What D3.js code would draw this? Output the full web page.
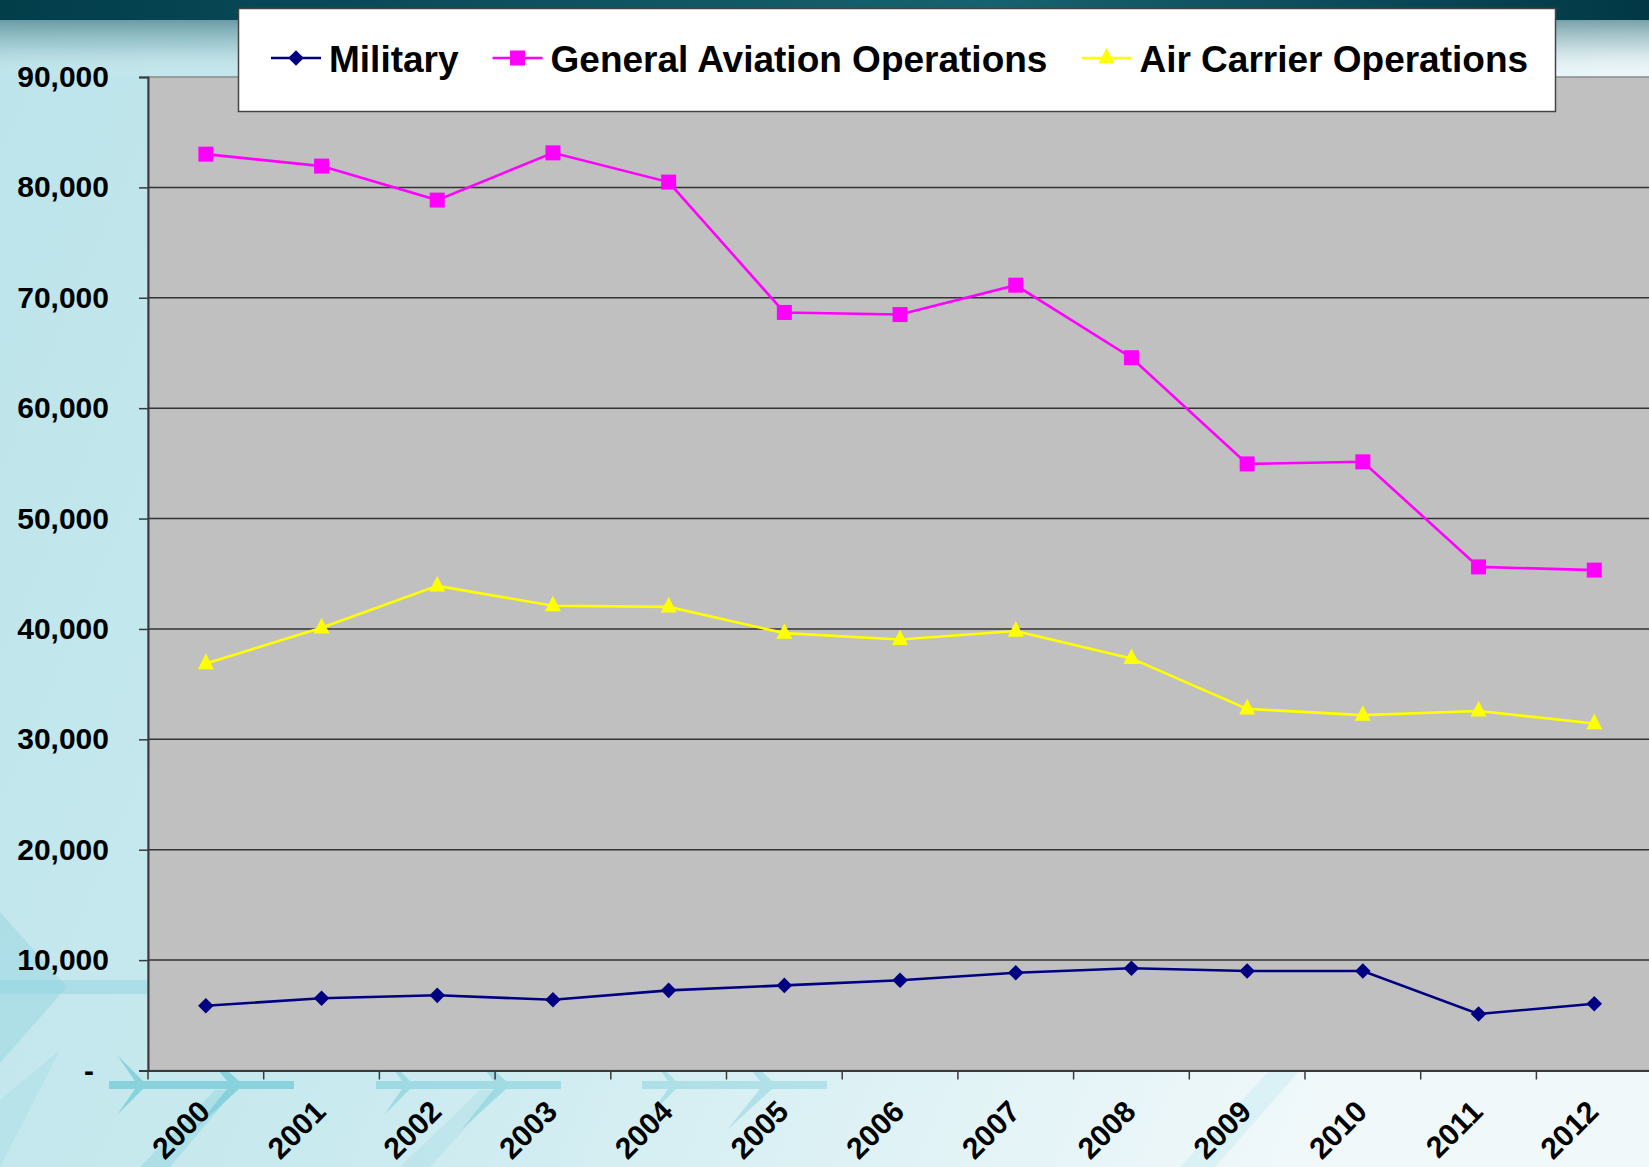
<!DOCTYPE html>
<html>
<head>
<meta charset="utf-8">
<script src="https://cdn.jsdelivr.net/npm/d3@7"></script>
<style>
  html, body { margin: 0; padding: 0; overflow: hidden; }
  body { width: 1649px; height: 1167px; }
  text { font-family: "Liberation Sans", Arial, sans-serif; font-weight: bold; }
</style>
</head>
<body>
<div id="graph"></div>
<script>
// chart data
const years = ["2000", "2001", "2002", "2003", "2004", "2005", "2006",
  "2007", "2008", "2009", "2010", "2011", "2012"];
const military = [5870, 6540, 6810, 6410, 7260, 7710, 8180, 8860, 9260, 9010, 9010, 5120, 6050];
const generalAviation = [83010, 81930, 78850, 83130, 80480, 68670, 68480, 71140, 64570, 54950, 55140, 45620, 45330];
const airCarrier = [36860, 40100, 43900, 42100, 42000, 39620, 39050, 39810, 37330, 32760, 32190, 32570, 31430];
const yTicks = [0, 10000, 20000, 30000, 40000, 50000, 60000, 70000, 80000, 90000];
const seriesNames = ["Military", "General Aviation Operations", "Air Carrier Operations"];

const W = 1649, H = 1167;
const margin = { top: 77, left: 148, bottom: 1070.5 };
const bandW = 115.7;

const svg = d3.select("#graph").append("svg")
  .attr("width", W).attr("height", H)
  .style("display", "block");

const defs = svg.append("defs");

// background gradients
const bg = defs.append("linearGradient").attr("id", "bg")
  .attr("x1", "0").attr("y1", "0").attr("x2", "1").attr("y2", "0.3");
bg.append("stop").attr("offset", "0").attr("stop-color", "#bce4ea");
bg.append("stop").attr("offset", "0.45").attr("stop-color", "#c9eaef");
bg.append("stop").attr("offset", "1").attr("stop-color", "#f0f8fa");

const topShade = defs.append("linearGradient").attr("id", "topShade")
  .attr("x1", "0").attr("y1", "0").attr("x2", "0").attr("y2", "1");
topShade.append("stop").attr("offset", "0").attr("stop-color", "#3f7480").attr("stop-opacity", 0.7);
topShade.append("stop").attr("offset", "0.45").attr("stop-color", "#6b9aa3").attr("stop-opacity", 0.35);
topShade.append("stop").attr("offset", "1").attr("stop-color", "#ffffff").attr("stop-opacity", 0);

const bar = defs.append("linearGradient").attr("id", "bar")
  .attr("x1", "0").attr("y1", "0").attr("x2", "1").attr("y2", "0");
bar.append("stop").attr("offset", "0").attr("stop-color", "#023d4a");
bar.append("stop").attr("offset", "0.6").attr("stop-color", "#176270");
bar.append("stop").attr("offset", "1").attr("stop-color", "#023845");

svg.append("rect").attr("width", W).attr("height", H).attr("fill", "url(#bg)");
svg.append("rect").attr("y", 18).attr("width", W).attr("height", 60).attr("fill", "url(#topShade)");
svg.append("rect").attr("width", W).attr("height", 20).attr("fill", "url(#bar)");

// faint airplane silhouettes in the background
function plane(g, x, y, s, op) {
  const p = g.append("g").attr("transform", `translate(${x},${y}) scale(${s})`)
    .attr("fill", "#74cbd9").attr("opacity", op);
  p.append("rect").attr("x", 0).attr("y", -4).attr("width", 185).attr("height", 8);
  p.append("path").attr("d", "M8,-30 L26,-4 L34,-4 Z M8,30 L26,4 L34,4 Z");
  p.append("path").attr("d", "M85,-45 L118,-4 L130,-4 Z M85,45 L118,4 L130,4 Z");
}
const deco = svg.append("g");
plane(deco, 109, 1085, 1, 0.75);
plane(deco, 376, 1085, 1, 0.5);
plane(deco, 642, 1085, 1, 0.4);
deco.append("rect").attr("x", 0).attr("y", 980).attr("width", 148).attr("height", 14)
  .attr("fill", "#8fd3df").attr("opacity", 0.45);
deco.append("path").attr("d", "M0,912 L67,987 L0,1063 Z").attr("fill", "#8fd3df").attr("opacity", 0.4);
deco.append("path").attr("d", "M0,1167 L0,1100 L60,1050 Z").attr("fill", "#9ad8e2").attr("opacity", 0.3);
deco.append("path").attr("d", "M140,1167 L215,1090 L235,1090 L170,1167 Z").attr("fill", "#86d0dc").attr("opacity", 0.4);
deco.append("path").attr("d", "M400,1167 L480,1090 L500,1090 L430,1167 Z").attr("fill", "#9ad8e2").attr("opacity", 0.3);
deco.append("path").attr("d", "M1180,1167 L1270,1070 L1300,1070 L1215,1167 Z").attr("fill", "#c8ecf1").attr("opacity", 0.5);

// scales
const x = d3.scaleBand().domain(years)
  .range([margin.left, margin.left + bandW * years.length]);
const y = d3.scaleLinear().domain([0, 90000]).range([margin.bottom, margin.top]);
const cx = (d) => x(d) + x.bandwidth() / 2;

// plot area
svg.append("rect")
  .attr("x", margin.left).attr("y", margin.top)
  .attr("width", x.range()[1] - margin.left)
  .attr("height", margin.bottom - margin.top)
  .attr("fill", "#c0c0c0")
  .attr("stroke", "#8a8a8a").attr("stroke-width", 1.5);

// gridlines
svg.append("g").selectAll("line")
  .data(yTicks.filter((d) => d > 0 && d < 90000))
  .join("line")
  .attr("x1", margin.left).attr("x2", x.range()[1])
  .attr("y1", (d) => y(d)).attr("y2", (d) => y(d))
  .attr("stroke", "#333").attr("stroke-width", 1.5);

// y axis
const yAxis = svg.append("g")
  .attr("transform", `translate(${margin.left},0)`)
  .call(d3.axisLeft(y).tickValues(yTicks).tickSize(9).tickPadding(30)
    .tickFormat((d) => (d === 0 ? "-" : d3.format(",")(d))));
yAxis.select(".domain").attr("stroke", "#3a3a3a").attr("stroke-width", 2);
yAxis.selectAll(".tick line").attr("stroke", "#3a3a3a").attr("stroke-width", 1.5);
yAxis.selectAll(".tick text")
  .attr("font-size", 30).attr("fill", "#000")
  .attr("x", (d) => (d === 0 ? -54 : -39));

// x axis: ticks at the category boundaries, labels at the centres
const xAxis = svg.append("g")
  .attr("transform", `translate(0,${margin.bottom})`)
  .call(d3.axisBottom(x).tickSize(9).tickSizeOuter(0));
xAxis.select(".domain").attr("stroke", "#3a3a3a").attr("stroke-width", 2);
xAxis.selectAll(".tick line")
  .attr("x1", -x.bandwidth() / 2).attr("x2", -x.bandwidth() / 2)
  .attr("stroke", "#3a3a3a").attr("stroke-width", 1.5);
xAxis.selectAll(".tick text")
  .attr("font-size", 30).attr("fill", "#000")
  .attr("text-anchor", "end")
  .attr("x", null).attr("y", null).attr("dy", null)
  .attr("transform", "translate(6,43) rotate(-45)");

// marker shapes (Excel style)
const markers = {
  diamond: "M0,-7.8L7.8,0L0,7.8L-7.8,0Z",
  square: "M-7.5,-7.5H7.5V7.5H-7.5Z",
  triangle: "M0,-10L8,5.6L-8,5.6Z",
};

const series = [
  { name: seriesNames[0], values: military, color: "#000080", marker: "diamond" },
  { name: seriesNames[1], values: generalAviation, color: "#ff00ff", marker: "square" },
  { name: seriesNames[2], values: airCarrier, color: "#ffff00", marker: "triangle" },
];

const line = d3.line().x((d, i) => cx(years[i])).y((d) => y(d));

series.forEach((s) => {
  svg.append("path")
    .datum(s.values)
    .attr("d", line)
    .attr("fill", "none")
    .attr("stroke", s.color)
    .attr("stroke-width", 2.6);
  svg.append("g").selectAll("path")
    .data(s.values)
    .join("path")
    .attr("d", markers[s.marker])
    .attr("transform", (d, i) => `translate(${cx(years[i])},${y(d)})`)
    .attr("fill", s.color);
});

// legend
const legend = svg.append("g");
legend.append("rect")
  .attr("x", 238.5).attr("y", 8.5).attr("width", 1317).attr("height", 103)
  .attr("fill", "#fff").attr("stroke", "#444").attr("stroke-width", 1.5);

let lx = 271;
series.forEach((s) => {
  const item = legend.append("g");
  item.append("line")
    .attr("x1", lx).attr("x2", lx + 50).attr("y1", 58).attr("y2", 58)
    .attr("stroke", s.color).attr("stroke-width", 2.6);
  item.append("path")
    .attr("d", markers[s.marker])
    .attr("transform", `translate(${lx + 25},58)`)
    .attr("fill", s.color);
  const t = item.append("text")
    .attr("x", lx + 58).attr("y", 71.5)
    .attr("font-size", 37).attr("fill", "#000")
    .text(s.name);
  lx = lx + 58 + t.node().getComputedTextLength() + 34;
});
</script>
</body>
</html>
